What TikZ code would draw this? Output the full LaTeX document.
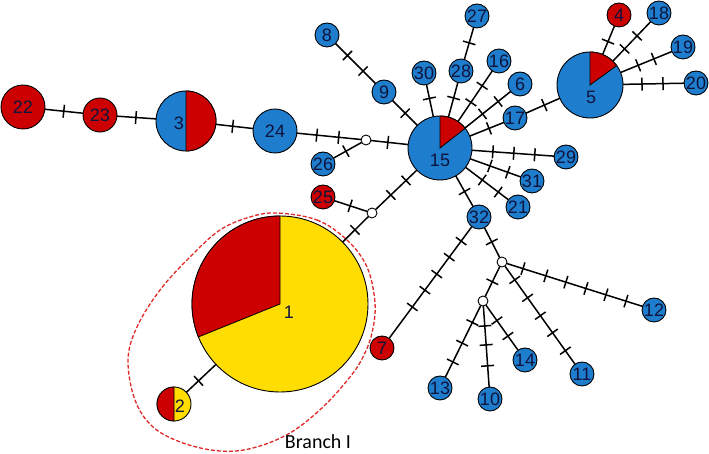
\documentclass[tikz,border=0pt]{standalone}
\usepackage{fontspec}
\usetikzlibrary{calc}
\newfontfamily\labfamily{Liberation Sans}
\newfontfamily\brfamily{Carlito}
\newcommand\labfnt{\labfamily\fontsize{18}{18}\selectfont}
\definecolor{hblue}{RGB}{30,125,205}
\definecolor{hred}{RGB}{204,0,0}
\definecolor{hyel}{RGB}{255,221,0}
\definecolor{txt}{RGB}{15,20,60}
\definecolor{hullc}{RGB}{225,40,40}
\newcommand\lnk[2]{\draw[edgeln] (#1) -- (#2);}
\newcommand\tk[3]{\path ($(#1.center)!#3!(#2.center)$) coordinate (tkp);
  \draw[tick] ($(tkp)!6.5pt!90:(#2.center)$) -- ($(tkp)!6.5pt!-90:(#2.center)$);}
\newcommand\tks[3]{\foreach \dd in {#3}{\tk{#1}{#2}{\dd pt}}}
\tikzset{
  hap/.style={circle, draw=black, line width=0.9pt, inner sep=0pt, outer sep=0pt, text=txt, font=\labfnt},
  sm/.style={hap, minimum size=24pt},
  bl/.style={fill=hblue}, rd/.style={fill=hred},
  jn/.style={circle, draw=black, line width=0.9pt, fill=white, minimum size=10pt, inner sep=0pt, outer sep=0pt},
  edgeln/.style={line width=1.5pt, black},
  tick/.style={line width=1.5pt, black},
  lbl/.style={text=txt, font=\labfnt, inner sep=0pt},
  wedge/.style={draw=black, line width=0.8pt},
  hull/.style={draw=hullc, line width=1.3pt, dash pattern=on 4pt off 2pt}
}
\begin{document}
\begin{tikzpicture}[x=1pt,y=1pt]
\useasboundingbox (0,0) rectangle (709,454);
% hull
\draw[hull] plot[smooth cycle, tension=0.6] coordinates {
 (277,241) (317,234) (347,214) (367,187) (375,151) (372,121) (363,97) (350,77)
 (323,47) (290,21) (253,6) (220,3) (183,11) (153,27) (135,54) (128,94)
 (137,127) (160,164) (190,197) (220,224) (250,237)};
\node[font=\brfamily\fontsize{20}{20}\selectfont, text=black, inner sep=0pt] (br) at (318,12) {Branch I};
% big nodes
\node[hap,rd,minimum size=44pt] (n22) at (23,347) {22};
\node[hap,rd,minimum size=34pt] (n23) at (100,339) {23};
\node[hap,bl,minimum size=60pt] (n3) at (186,333) {};
\node[hap,bl,minimum size=44pt] (n24) at (275,323) {24};
\node[hap,bl,minimum size=64pt] (n15) at (440,306) {};
\node[hap,bl,minimum size=66pt] (n5) at (590,369) {};
\node[hap,fill=hyel,minimum size=176pt] (n1) at (280,150) {};
\node[hap,fill=hyel,minimum size=34pt] (n2) at (174,50) {};
% junctions
\node[jn] (j1) at (366,314) {};
\node[jn] (j2) at (372,241) {};
\node[jn] (j3) at (502,192) {};
\node[jn] (j4) at (483,153) {};
% small nodes
\node[sm,bl] (n26) at (323,290) {26};
\node[sm,bl] (n8) at (327,419) {8};
\node[sm,bl] (n9) at (384,362) {9};
\node[sm,bl] (n30) at (424,381) {30};
\node[sm,bl] (n28) at (461,383) {28};
\node[sm,bl] (n27) at (477,438) {27};
\node[sm,bl] (n16) at (499,393) {16};
\node[sm,bl] (n6) at (520,370) {6};
\node[sm,bl] (n17) at (515,336) {17};
\node[sm,rd] (n4) at (619,439) {4};
\node[sm,bl] (n18) at (659,441) {18};
\node[sm,bl] (n19) at (683,407) {19};
\node[sm,bl] (n20) at (696,371) {20};
\node[sm,bl] (n29) at (566,297) {29};
\node[sm,bl] (n31) at (532,273) {31};
\node[sm,bl] (n21) at (518,247) {21};
\node[sm,bl] (n32) at (479,237) {32};
\node[sm,rd] (n25) at (323,257) {25};
\node[sm,rd] (n7) at (382,106) {7};
\node[sm,bl] (n12) at (654,144) {12};
\node[sm,bl] (n11) at (582,80) {11};
\node[sm,bl] (n14) at (525,94) {14};
\node[sm,bl] (n10) at (490,55) {10};
\node[sm,bl] (n13) at (440,66) {13};
% pies
\filldraw[wedge, fill=hred] (n15.center) -- ++(38:32pt) arc[start angle=38, end angle=90, radius=32pt] -- cycle;
\filldraw[wedge, fill=hred] (n5.center) -- ++(36:33pt) arc[start angle=36, end angle=90, radius=33pt] -- cycle;
\filldraw[wedge, fill=hred] ($(n3.center)+(0,-30pt)$) arc[start angle=-90, end angle=90, radius=30pt] -- cycle;
\filldraw[wedge, fill=hred] (n1.center) -- ++(90:88pt) arc[start angle=90, end angle=202, radius=88pt] -- cycle;
\filldraw[wedge, fill=hred] ($(n2.center)+(0,17pt)$) arc[start angle=90, end angle=270, radius=17pt] -- cycle;
\node[lbl] (n3t) at (179,331) {3};
\node[lbl] (n15t) at (440,294) {15};
\node[lbl] (n5t) at (591,357) {5};
\node[lbl] (n1t) at (289,142) {1};
\node[lbl] (n2t) at (180,48) {2};
% edges
\lnk{n22}{n23} \tks{n22}{n23}{41}
\lnk{n23}{n3} \tks{n23}{n3}{36}
\lnk{n3}{n24} \tks{n3}{n24}{47}
\lnk{n24}{j1} \tks{n24}{j1}{42,64}
\lnk{j1}{n15} \tks{j1}{n15}{22}
\lnk{j1}{n26} \tks{j1}{n26}{23}
\lnk{n8}{n9} \tks{n8}{n9}{29,51}
\lnk{n9}{n15} \tks{n9}{n15}{30}
\lnk{n30}{n15} \tks{n30}{n15}{26}
\lnk{n28}{n15} \tks{n28}{n15}{28}
\lnk{n27}{n28} \tks{n27}{n28}{28}
\lnk{n16}{n15} \tks{n16}{n15}{30,50}
\lnk{n6}{n15} \tks{n6}{n15}{28,48}
\lnk{n17}{n15} \tks{n17}{n15}{28}
\lnk{n17}{n5} \tks{n17}{n5}{32}
\lnk{n5}{n4} \tks{n5}{n4}{47}
\lnk{n5}{n18} \tks{n5}{n18}{50,68}
\lnk{n5}{n19} \tks{n5}{n19}{52,69}
\lnk{n5}{n20} \tks{n5}{n20}{52,73}
\lnk{n15}{n29} \tks{n15}{n29}{53,74,95}
\lnk{n15}{n31} \tks{n15}{n31}{53,72}
\lnk{n15}{n21} \tks{n15}{n21}{53,73}
\lnk{n15}{n32} \tks{n15}{n32}{50}
\lnk{n15}{j2} \tks{n15}{j2}{47,68}
\lnk{j2}{n25} \tks{j2}{n25}{23}
\lnk{j2}{n1} \tks{j2}{n1}{24}
\lnk{n1}{n2} \tks{n1}{n2}{112}
\lnk{n32}{n7} \tks{n32}{n7}{30,50,71,91,112}
\lnk{n32}{j3} \tks{n32}{j3}{28}
\lnk{j3}{n12} \tks{j3}{n12}{22,46,67,88,109,130}
\lnk{j3}{n11} \tks{j3}{n11}{22,44,66,87,109}
\lnk{j3}{j4} \tks{j3}{j4}{22}
\lnk{j4}{n13} \tks{j4}{n13}{24,47,68}
\lnk{j4}{n10} \tks{j4}{n10}{25,44,65}
\lnk{j4}{n14} \tks{j4}{n14}{24,43}
\end{tikzpicture}
\end{document}
